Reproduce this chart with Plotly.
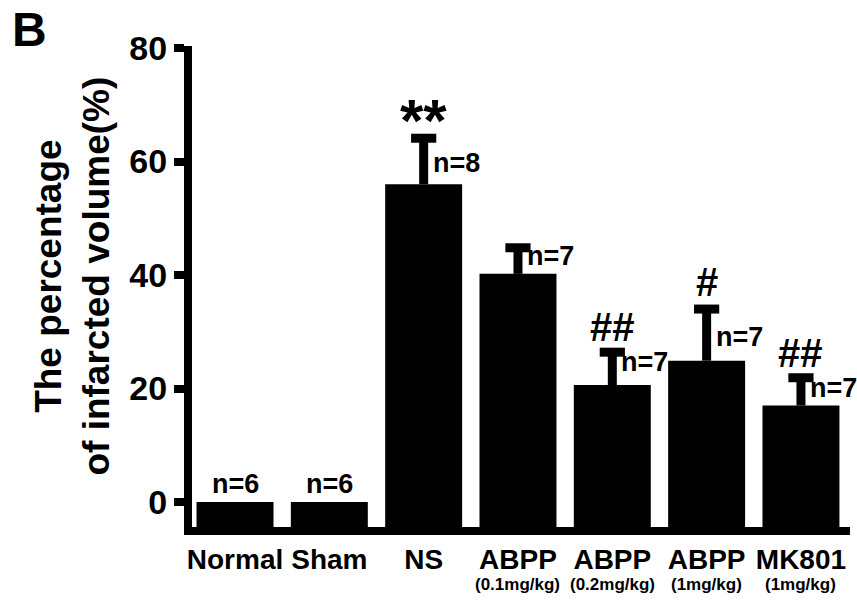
import plotly.graph_objects as go

# ---- data ----
group_keys = ["Normal", "Sham", "NS", "ABPP (0.1mg/kg)", "ABPP (0.2mg/kg)", "ABPP (1mg/kg)", "MK801 (1mg/kg)"]
tick_main = ["Normal", "Sham", "NS", "ABPP", "ABPP", "ABPP", "MK801"]
tick_dose = ["", "", "", "(0.1mg/kg)", "(0.2mg/kg)", "(1mg/kg)", "(1mg/kg)"]
means = [0.0, 0.0, 56.0, 40.2, 20.6, 24.9, 17.0]
errors = [0.0, 0.0, 8.1, 4.6, 5.8, 9.1, 4.9]
n_labels = ["n=6", "n=6", "n=8", "n=7", "n=7", "n=7", "n=7"]
sig_marks = ["", "", "**", "", "##", "#", "##"]
y_ticks = [0, 20, 40, 60, 80]

# ---- layout helpers (pixel offsets for annotations) ----
n_label_dy = [0, 0, 25, 8, 10, 28, 10]
sig_dy = [0, 0, 18, 0, 25, 27, 25]

Y_LO, Y_HI = -4.4, 80.35
FONT = "Arial, Liberation Sans, sans-serif"

fig = go.Figure()
# bars rising from the bottom of the axis
fig.add_trace(go.Bar(
    x=group_keys,
    y=[m - Y_LO for m in means],
    base=[Y_LO] * len(means),
    marker=dict(color="black", line=dict(width=0)),
    error_y=dict(type="data", symmetric=False, array=errors,
                 arrayminus=[0] * len(errors), color="black",
                 thickness=9, width=0),
    showlegend=False, hoverinfo="skip",
))
# caps of the upper error bars
cap_x = [k for k, e in zip(group_keys, errors) if e > 0]
cap_y = [m + e for m, e in zip(means, errors) if e > 0]
fig.add_trace(go.Scatter(
    x=cap_x, y=cap_y, mode="markers",
    marker=dict(symbol="line-ew", size=18, color="black",
                line=dict(width=9, color="black")),
    showlegend=False, hoverinfo="skip",
))

annotations = []
for i, key in enumerate(group_keys):
    top = means[i] + errors[i]
    if means[i] > 0:
        annotations.append(dict(
            x=key, y=top, xref="x", yref="y", text="<b>%s</b>" % n_labels[i],
            showarrow=False, xanchor="left", yanchor="middle",
            xshift=7, yshift=-n_label_dy[i],
            font=dict(family=FONT, size=27, color="black")))
    else:
        annotations.append(dict(
            x=key, y=means[i], xref="x", yref="y", text="<b>%s</b>" % n_labels[i],
            showarrow=False, xanchor="center", yanchor="bottom", yshift=1,
            font=dict(family=FONT, size=27, color="black")))
    if sig_marks[i]:
        size = 60 if sig_marks[i].startswith("*") else 40
        annotations.append(dict(
            x=key, y=top, xref="x", yref="y", text="<b>%s</b>" % sig_marks[i],
            showarrow=False, xanchor="center", yanchor="middle",
            yshift=sig_dy[i],
            font=dict(family=FONT, size=size, color="black")))
    if tick_dose[i]:
        annotations.append(dict(
            x=key, y=-0.1205, xref="x", yref="paper", text="<b>%s</b>" % tick_dose[i],
            showarrow=False, xanchor="center", yanchor="middle",
            font=dict(family=FONT, size=17, color="black")))

# y-axis title (two lines) and panel letter
annotations.append(dict(
    x=-0.1831, y=0.5218, xref="paper", yref="paper",
    text="<b>The percentage<br>of infarcted volume(%)</b>", textangle=-90,
    showarrow=False, xanchor="center", yanchor="middle",
    font=dict(family=FONT, size=37, color="black")))
annotations.append(dict(
    x=-0.2477, y=1.035, xref="paper", yref="paper", text="<b>B</b>",
    showarrow=False, xanchor="center", yanchor="middle",
    font=dict(family=FONT, size=48, color="black")))

fig.update_layout(
    width=857, height=601,
    margin=dict(l=192, r=7, t=46, b=74),
    paper_bgcolor="white", plot_bgcolor="white",
    bargap=0.184,
    annotations=annotations,
    xaxis=dict(
        type="category", range=[-0.456, 6.52],
        tickvals=group_keys, ticktext=["<b>%s</b>" % t for t in tick_main],
        tickfont=dict(family=FONT, size=28, color="black"),
        showline=True, linecolor="black", linewidth=8,
        ticks="", showgrid=False, zeroline=False,
        ticklabelstandoff=0,
    ),
    yaxis=dict(
        range=[Y_LO, Y_HI], tickvals=y_ticks,
        ticktext=["<b>%d</b>" % t for t in y_ticks],
        tickfont=dict(family=FONT, size=34, color="black"),
        showline=True, linecolor="black", linewidth=8,
        ticks="outside", ticklen=10, tickwidth=8, tickcolor="black",
        showgrid=False, zeroline=False,
    ),
)

fig.write_html("out.html")
